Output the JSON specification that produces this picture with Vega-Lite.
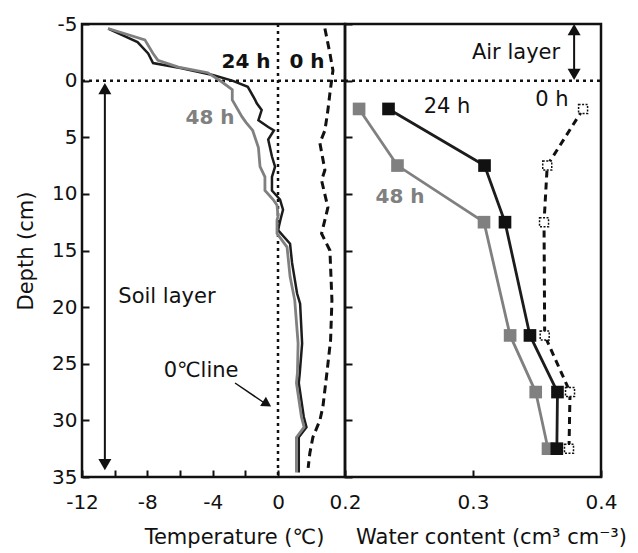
{
  "$schema": "https://vega.github.io/schema/vega-lite/v6.json",
  "background": "white",
  "padding": {"left": 14, "top": 12, "right": 5, "bottom": 5},
  "spacing": 0,
  "bounds": "flush",
  "config": {
    "font": "DejaVu Sans",
    "view": {"stroke": "#111111", "strokeWidth": 2.5},
    "axis": {
      "grid": false, "domain": false,
      "labelFont": "DejaVu Sans", "titleFont": "DejaVu Sans",
      "labelFontSize": 20, "titleFontSize": 21, "titleFontWeight": "normal",
      "labelColor": "#111111", "titleColor": "#111111", "tickColor": "#111111",
      "tickWidth": 2, "labelFlush": false, "labelOverlap": false, "labelBound": false
    }
  },
  "datasets": {
    "t24": [
      {"depth": -4.6, "T": -10.4}, {"depth": -3.4, "T": -8.6}, {"depth": -2.4, "T": -7.95},
      {"depth": -1.55, "T": -7.65}, {"depth": -1.1, "T": -5.9}, {"depth": -0.5, "T": -4.0},
      {"depth": 0.0, "T": -2.8}, {"depth": 0.55, "T": -1.85}, {"depth": 1.7, "T": -1.4},
      {"depth": 2.0, "T": -1.3}, {"depth": 2.6, "T": -1.0}, {"depth": 3.5, "T": -1.2},
      {"depth": 4.1, "T": -0.6}, {"depth": 4.4, "T": -0.25}, {"depth": 5.2, "T": -0.6},
      {"depth": 6.7, "T": -0.37}, {"depth": 7.6, "T": -0.18}, {"depth": 8.5, "T": -0.37},
      {"depth": 9.7, "T": -0.37}, {"depth": 10.5, "T": 0.006}, {"depth": 11.4, "T": 0.015},
      {"depth": 12.2, "T": 0.008}, {"depth": 13.2, "T": 0.0}, {"depth": 14.4, "T": 0.036},
      {"depth": 16.1, "T": 0.042}, {"depth": 18.8, "T": 0.057}, {"depth": 19.7, "T": 0.066},
      {"depth": 23.2, "T": 0.072}, {"depth": 25.8, "T": 0.065}, {"depth": 26.7, "T": 0.062},
      {"depth": 29.7, "T": 0.077}, {"depth": 30.6, "T": 0.085}, {"depth": 31.5, "T": 0.062},
      {"depth": 34.6, "T": 0.062}
    ],
    "t48": [
      {"depth": -4.6, "T": -10.4}, {"depth": -3.6, "T": -8.15}, {"depth": -2.4, "T": -7.65},
      {"depth": -1.8, "T": -7.35}, {"depth": -1.2, "T": -6.1}, {"depth": -0.7, "T": -4.3},
      {"depth": 0.1, "T": -3.45}, {"depth": 0.8, "T": -2.8}, {"depth": 1.7, "T": -2.8},
      {"depth": 3.2, "T": -2.2}, {"depth": 3.7, "T": -1.95}, {"depth": 4.4, "T": -1.55},
      {"depth": 5.9, "T": -1.2}, {"depth": 7.6, "T": -1.1}, {"depth": 8.5, "T": -0.8},
      {"depth": 9.7, "T": -0.8}, {"depth": 10.5, "T": -0.3}, {"depth": 11.0, "T": -0.06},
      {"depth": 12.0, "T": 0.0}, {"depth": 12.3, "T": -0.06}, {"depth": 13.5, "T": -0.06},
      {"depth": 14.7, "T": 0.027}, {"depth": 17.3, "T": 0.036}, {"depth": 19.4, "T": 0.05},
      {"depth": 23.2, "T": 0.06}, {"depth": 25.8, "T": 0.058}, {"depth": 26.7, "T": 0.055},
      {"depth": 29.7, "T": 0.07}, {"depth": 30.6, "T": 0.078}, {"depth": 31.5, "T": 0.055},
      {"depth": 34.6, "T": 0.055}
    ],
    "t0": [
      {"depth": -4.6, "T": 0.14}, {"depth": -2.4, "T": 0.155}, {"depth": -0.9, "T": 0.164},
      {"depth": 1.1, "T": 0.155}, {"depth": 2.6, "T": 0.149}, {"depth": 4.4, "T": 0.14},
      {"depth": 5.5, "T": 0.125}, {"depth": 7.9, "T": 0.14}, {"depth": 8.8, "T": 0.13},
      {"depth": 11.2, "T": 0.149}, {"depth": 12.3, "T": 0.14}, {"depth": 13.5, "T": 0.13},
      {"depth": 15.0, "T": 0.155}, {"depth": 19.4, "T": 0.161}, {"depth": 22.9, "T": 0.157},
      {"depth": 25.8, "T": 0.146}, {"depth": 28.8, "T": 0.134}, {"depth": 30.0, "T": 0.125},
      {"depth": 31.5, "T": 0.104}, {"depth": 32.9, "T": 0.095}, {"depth": 34.2, "T": 0.09}
    ],
    "w24": [
      {"depth": 2.5, "W": 0.234}, {"depth": 7.5, "W": 0.309}, {"depth": 12.5, "W": 0.325},
      {"depth": 22.5, "W": 0.3445}, {"depth": 27.5, "W": 0.366}, {"depth": 32.5, "W": 0.3655}
    ],
    "w48": [
      {"depth": 2.5, "W": 0.211}, {"depth": 7.5, "W": 0.241}, {"depth": 12.5, "W": 0.3086},
      {"depth": 22.5, "W": 0.329}, {"depth": 27.5, "W": 0.349}, {"depth": 32.5, "W": 0.3586}
    ],
    "w0": [
      {"depth": 2.5, "W": 0.386}, {"depth": 7.5, "W": 0.358}, {"depth": 12.5, "W": 0.3555},
      {"depth": 22.5, "W": 0.356}, {"depth": 27.5, "W": 0.3758}, {"depth": 32.5, "W": 0.375}
    ]
  },
  "hconcat": [
    {
      "width": 263,
      "height": 453,
      "encoding": {
        "x": {
          "field": "T", "type": "quantitative",
          "scale": {"domain": [-12, 0, 0.2], "range": [0, 196, 263], "zero": false, "nice": false},
          "axis": {
            "title": "Temperature (℃)",
            "values": [-12, -10, -8, -6, -4, -2, 0, 0.2],
            "labelExpr": "(datum.value == -10 || datum.value == -6 || datum.value == -2) ? '' : toString(datum.value)",
            "tickSize": -7, "labelPadding": 22, "titlePadding": 14, "titleX": 152
          }
        },
        "y": {
          "field": "depth", "type": "quantitative",
          "scale": {"domain": [-5, 35], "reverse": true, "zero": false, "nice": false},
          "axis": {
            "title": "Depth (cm)",
            "values": [-5, 0, 5, 10, 15, 20, 25, 30, 35],
            "labelExpr": "toString(datum.value)",
            "tickSize": -7, "labelPadding": 12, "titlePadding": 15
          }
        }
      },
      "layer": [
        {
          "data": {"values": [{"T": -12, "T2": 0.2, "depth": 0}]},
          "mark": {"type": "rule", "color": "#111111", "strokeWidth": 2.5, "strokeDash": [3, 4]},
          "encoding": {"x2": {"field": "T2"}}
        },
        {
          "data": {"values": [{"T": 0, "depth": -5, "depth2": 35}]},
          "mark": {"type": "rule", "color": "#111111", "strokeWidth": 2.5, "strokeDash": [3, 4]},
          "encoding": {"y2": {"field": "depth2"}}
        },
        {
          "data": {"name": "t0"},
          "mark": {"type": "line", "color": "#111111", "strokeWidth": 3, "strokeDash": [8, 5]},
          "encoding": {"order": {"field": "depth", "type": "quantitative"}}
        },
        {
          "data": {"name": "t24"},
          "mark": {"type": "line", "color": "#1c1c1c", "strokeWidth": 2.5},
          "encoding": {"order": {"field": "depth", "type": "quantitative"}}
        },
        {
          "data": {"name": "t48"},
          "mark": {"type": "line", "color": "#808080", "strokeWidth": 2.8},
          "encoding": {"order": {"field": "depth", "type": "quantitative"}}
        },
        {
          "data": {"values": [{"T": -10.6, "depth": 0.6, "depth2": 34.0}]},
          "mark": {"type": "rule", "color": "#111111", "strokeWidth": 2},
          "encoding": {"y2": {"field": "depth2"}}
        },
        {
          "data": {"values": [{"T": -10.6, "depth": 0.7}]},
          "mark": {"type": "point", "shape": "triangle-up", "filled": true, "color": "#111111", "size": 169, "opacity": 1}
        },
        {
          "data": {"values": [{"T": -10.6, "depth": 33.9}]},
          "mark": {"type": "point", "shape": "triangle-down", "filled": true, "color": "#111111", "size": 169, "opacity": 1}
        },
        {
          "data": {"values": [{"T": -2.63, "depth": 26.7, "T2": -0.9, "depth2": 28.4}]},
          "mark": {"type": "rule", "color": "#111111", "strokeWidth": 1.5},
          "encoding": {"x2": {"field": "T2"}, "y2": {"field": "depth2"}}
        },
        {
          "data": {"values": [{"T": -0.67, "depth": 28.55}]},
          "mark": {"type": "point", "shape": "triangle-right", "angle": 32, "filled": true, "color": "#111111", "size": 120, "opacity": 1}
        },
        {
          "data": {"values": [{"label": "24 h", "T": -1.96, "depth": -1.64}, {"label": "0 h", "T": 0.0866, "depth": -1.64}]},
          "mark": {"type": "text", "font": "DejaVu Sans", "fontSize": 20, "fontWeight": "bold", "color": "#111111", "baseline": "middle"},
          "encoding": {"text": {"field": "label"}}
        },
        {
          "data": {"values": [{"label": "48 h", "T": -4.16, "depth": 3.3}]},
          "mark": {"type": "text", "font": "DejaVu Sans", "fontSize": 20, "fontWeight": "bold", "color": "#808080", "baseline": "middle"},
          "encoding": {"text": {"field": "label"}}
        },
        {
          "data": {"values": [{"label": "Soil layer", "T": -6.8, "depth": 19.1}, {"label": "0℃line", "T": -4.71, "depth": 25.6}]},
          "mark": {"type": "text", "font": "DejaVu Sans", "fontSize": 21, "color": "#111111", "baseline": "middle"},
          "encoding": {"text": {"field": "label"}}
        }
      ]
    },
    {
      "width": 256,
      "height": 453,
      "encoding": {
        "x": {
          "field": "W", "type": "quantitative",
          "scale": {"domain": [0.2, 0.4], "zero": false, "nice": false},
          "axis": {
            "title": "Water content (cm³ cm⁻³)",
            "values": [0.3, 0.4],
            "labelExpr": "toString(datum.value)",
            "tickSize": -7, "labelPadding": 22, "titlePadding": 14, "titleX": 146
          }
        },
        "y": {
          "field": "depth", "type": "quantitative",
          "scale": {"domain": [-5, 35], "reverse": true, "zero": false, "nice": false},
          "axis": {
            "title": null, "labels": false,
            "values": [-5, 0, 5, 10, 15, 20, 25, 30, 35],
            "tickSize": -7
          }
        }
      },
      "layer": [
        {
          "data": {"values": [{"W": 0.2, "W2": 0.4, "depth": 0}]},
          "mark": {"type": "rule", "color": "#111111", "strokeWidth": 2.5, "strokeDash": [3, 4]},
          "encoding": {"x2": {"field": "W2"}}
        },
        {
          "data": {"name": "w0"},
          "mark": {"type": "line", "color": "#111111", "strokeWidth": 3, "strokeDash": [7, 5]},
          "encoding": {"order": {"field": "depth", "type": "quantitative"}}
        },
        {
          "data": {"name": "w48"},
          "mark": {"type": "line", "color": "#808080", "strokeWidth": 2.8},
          "encoding": {"order": {"field": "depth", "type": "quantitative"}}
        },
        {
          "data": {"name": "w48"},
          "mark": {"type": "point", "shape": "square", "filled": true, "color": "#808080", "size": 160, "opacity": 1}
        },
        {
          "data": {"name": "w24"},
          "mark": {"type": "line", "color": "#1c1c1c", "strokeWidth": 2.8},
          "encoding": {"order": {"field": "depth", "type": "quantitative"}}
        },
        {
          "data": {"name": "w24"},
          "mark": {"type": "point", "shape": "square", "filled": true, "color": "#111111", "size": 160, "opacity": 1}
        },
        {
          "data": {"name": "w0"},
          "mark": {"type": "point", "shape": "square", "fill": "white", "stroke": "#111111", "strokeWidth": 1.5, "strokeDash": [2, 1.5], "size": 81, "opacity": 1, "fillOpacity": 1}
        },
        {
          "data": {"values": [{"W": 0.379, "depth": -4.5, "depth2": -0.55}]},
          "mark": {"type": "rule", "color": "#111111", "strokeWidth": 2},
          "encoding": {"y2": {"field": "depth2"}}
        },
        {
          "data": {"values": [{"W": 0.379, "depth": -4.5}]},
          "mark": {"type": "point", "shape": "triangle-up", "filled": true, "color": "#111111", "size": 169, "opacity": 1}
        },
        {
          "data": {"values": [{"W": 0.379, "depth": -0.55}]},
          "mark": {"type": "point", "shape": "triangle-down", "filled": true, "color": "#111111", "size": 169, "opacity": 1}
        },
        {
          "data": {"values": [{"label": "Air layer", "W": 0.3336, "depth": -2.44}, {"label": "24 h", "W": 0.2797, "depth": 2.33}, {"label": "0 h", "W": 0.3617, "depth": 1.7}]},
          "mark": {"type": "text", "font": "DejaVu Sans", "fontSize": 21, "color": "#111111", "baseline": "middle"},
          "encoding": {"text": {"field": "label"}}
        },
        {
          "data": {"values": [{"label": "48 h", "W": 0.243, "depth": 10.3}]},
          "mark": {"type": "text", "font": "DejaVu Sans", "fontSize": 20, "fontWeight": "bold", "color": "#808080", "baseline": "middle"},
          "encoding": {"text": {"field": "label"}}
        }
      ]
    }
  ]
}
